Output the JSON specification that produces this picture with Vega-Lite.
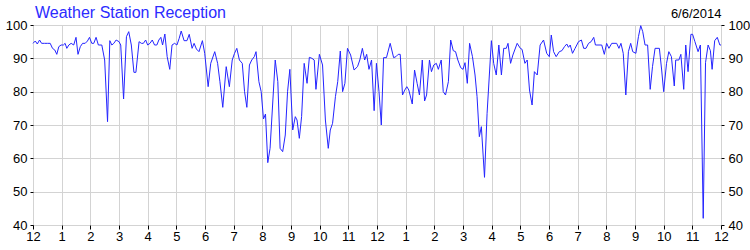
{
  "$schema": "https://vega.github.io/schema/vega-lite/v6.json",
  "width": 688,
  "height": 200,
  "autosize": {"type": "none"},
  "padding": {"left": 33, "top": 25, "right": 29, "bottom": 25},
  "title": {"text": "Weather Station Reception", "anchor": "start", "frame": "group", "color": "#2b2bff", "font": "Liberation Sans", "fontSize": 16, "fontWeight": "normal", "offset": 4, "dx": 2, "dy": 18},
  "config": {
    "view": {"stroke": "black", "strokeWidth": 1},
    "axis": {"labelFont": "Liberation Sans", "labelFontSize": 13, "labelColor": "black", "gridColor": "#d3d3d3", "gridWidth": 1, "tickColor": "black", "domain": false, "titleFont": "Liberation Sans"}
  },
  "data": {"values": [
    {"h":0.00,"v":94.5},{"h":0.08,"v":95.2},{"h":0.15,"v":94.3},{"h":0.23,"v":95.5},{"h":0.30,"v":94.5},{"h":0.40,"v":94.5},{"h":0.50,"v":94.5},{"h":0.60,"v":94.5},{"h":0.68,"v":93},{"h":0.76,"v":92.5},{"h":0.83,"v":91.2},{"h":0.90,"v":93.5},{"h":0.98,"v":94},{"h":1.06,"v":94},{"h":1.12,"v":94.5},{"h":1.18,"v":93},{"h":1.25,"v":94},{"h":1.33,"v":94.5},{"h":1.42,"v":94},{"h":1.50,"v":96.3},{"h":1.57,"v":91.2},{"h":1.65,"v":93.5},{"h":1.73,"v":94.5},{"h":1.82,"v":94.5},{"h":1.90,"v":95.2},{"h":1.97,"v":96.3},{"h":2.05,"v":94.5},{"h":2.12,"v":94.5},{"h":2.20,"v":96.3},{"h":2.28,"v":94},{"h":2.40,"v":94},{"h":2.50,"v":89.5},{"h":2.60,"v":71},{"h":2.68,"v":95.3},{"h":2.75,"v":94},{"h":2.82,"v":94.5},{"h":2.90,"v":95.5},{"h":3.00,"v":95},{"h":3.06,"v":94},{"h":3.16,"v":77.8},{"h":3.26,"v":96.5},{"h":3.34,"v":98},{"h":3.43,"v":94},{"h":3.52,"v":85.8},{"h":3.59,"v":85.8},{"h":3.70,"v":95},{"h":3.78,"v":94.5},{"h":3.85,"v":94.5},{"h":3.93,"v":95.5},{"h":4.00,"v":94},{"h":4.08,"v":94.5},{"h":4.16,"v":95.5},{"h":4.24,"v":94},{"h":4.32,"v":94},{"h":4.39,"v":95.5},{"h":4.46,"v":96.3},{"h":4.52,"v":94},{"h":4.60,"v":97.3},{"h":4.68,"v":90.5},{"h":4.77,"v":86.7},{"h":4.85,"v":94},{"h":4.94,"v":94.5},{"h":5.02,"v":94},{"h":5.10,"v":96},{"h":5.17,"v":98.2},{"h":5.27,"v":95.3},{"h":5.37,"v":95.3},{"h":5.45,"v":97.2},{"h":5.55,"v":93},{"h":5.62,"v":94.5},{"h":5.70,"v":92.8},{"h":5.79,"v":92},{"h":5.91,"v":95.3},{"h":5.99,"v":91.5},{"h":6.11,"v":81.5},{"h":6.20,"v":88.5},{"h":6.34,"v":92},{"h":6.44,"v":88.5},{"h":6.52,"v":83},{"h":6.62,"v":75.3},{"h":6.74,"v":87.5},{"h":6.85,"v":81.5},{"h":6.95,"v":89.5},{"h":7.03,"v":91.5},{"h":7.11,"v":93},{"h":7.20,"v":89.5},{"h":7.30,"v":88.5},{"h":7.38,"v":80},{"h":7.46,"v":75.3},{"h":7.55,"v":88},{"h":7.63,"v":89.5},{"h":7.72,"v":90.5},{"h":7.78,"v":92},{"h":7.88,"v":83},{"h":7.96,"v":80},{"h":8.04,"v":71.8},{"h":8.11,"v":73.3},{"h":8.19,"v":58.7},{"h":8.27,"v":63},{"h":8.45,"v":89.5},{"h":8.54,"v":83},{"h":8.62,"v":63},{"h":8.71,"v":62},{"h":8.80,"v":67},{"h":8.88,"v":80},{"h":8.96,"v":86.7},{"h":9.06,"v":68.5},{"h":9.15,"v":72.5},{"h":9.21,"v":71.5},{"h":9.29,"v":66},{"h":9.37,"v":72.5},{"h":9.46,"v":88.5},{"h":9.56,"v":82.5},{"h":9.64,"v":90.3},{"h":9.73,"v":90},{"h":9.81,"v":89.5},{"h":9.87,"v":80.7},{"h":9.99,"v":91.2},{"h":10.10,"v":88},{"h":10.20,"v":71.5},{"h":10.30,"v":63},{"h":10.37,"v":68.5},{"h":10.45,"v":70.5},{"h":10.55,"v":78.5},{"h":10.63,"v":83},{"h":10.72,"v":92.2},{"h":10.80,"v":80},{"h":10.88,"v":82.5},{"h":10.97,"v":93},{"h":11.08,"v":91},{"h":11.20,"v":86.5},{"h":11.32,"v":87.5},{"h":11.40,"v":89.5},{"h":11.49,"v":93},{"h":11.57,"v":89.5},{"h":11.64,"v":91.2},{"h":11.72,"v":86.7},{"h":11.81,"v":89.5},{"h":11.90,"v":74.3},{"h":11.98,"v":88.5},{"h":12.07,"v":80},{"h":12.15,"v":70},{"h":12.23,"v":90.2},{"h":12.33,"v":90.2},{"h":12.46,"v":94.5},{"h":12.58,"v":90.2},{"h":12.66,"v":90.5},{"h":12.74,"v":91.2},{"h":12.81,"v":91.2},{"h":12.89,"v":79},{"h":12.97,"v":80.5},{"h":13.04,"v":81.5},{"h":13.11,"v":80.5},{"h":13.23,"v":76.3},{"h":13.31,"v":86.5},{"h":13.40,"v":82.5},{"h":13.48,"v":79},{"h":13.58,"v":89.5},{"h":13.66,"v":77.2},{"h":13.73,"v":79},{"h":13.83,"v":89.5},{"h":13.90,"v":86},{"h":13.98,"v":88},{"h":14.07,"v":88.5},{"h":14.14,"v":86.7},{"h":14.24,"v":89.5},{"h":14.31,"v":80},{"h":14.39,"v":79},{"h":14.49,"v":83},{"h":14.57,"v":95.5},{"h":14.66,"v":92.3},{"h":14.74,"v":92},{"h":14.82,"v":89.5},{"h":14.92,"v":87.2},{"h":15.00,"v":86.7},{"h":15.07,"v":88.7},{"h":15.15,"v":82.5},{"h":15.23,"v":94.5},{"h":15.33,"v":90.5},{"h":15.42,"v":85},{"h":15.49,"v":78.5},{"h":15.57,"v":66.5},{"h":15.64,"v":69.5},{"h":15.75,"v":54.3},{"h":15.84,"v":73.5},{"h":15.99,"v":95.3},{"h":16.07,"v":88.5},{"h":16.16,"v":85},{"h":16.25,"v":94},{"h":16.34,"v":85},{"h":16.42,"v":93},{"h":16.51,"v":93},{"h":16.57,"v":94.5},{"h":16.66,"v":88.5},{"h":16.74,"v":91},{"h":16.89,"v":94.5},{"h":17.00,"v":93},{"h":17.06,"v":92.7},{"h":17.16,"v":88.5},{"h":17.24,"v":89.5},{"h":17.32,"v":80.5},{"h":17.41,"v":76},{"h":17.49,"v":86},{"h":17.59,"v":85},{"h":17.69,"v":94},{"h":17.81,"v":95.5},{"h":17.92,"v":91.5},{"h":18.01,"v":90.5},{"h":18.08,"v":97},{"h":18.16,"v":92},{"h":18.25,"v":90.5},{"h":18.36,"v":92},{"h":18.45,"v":92.3},{"h":18.54,"v":93.5},{"h":18.62,"v":94.3},{"h":18.68,"v":93.3},{"h":18.74,"v":94},{"h":18.82,"v":91.5},{"h":18.91,"v":93},{"h":19.03,"v":95},{"h":19.13,"v":95.5},{"h":19.21,"v":93},{"h":19.29,"v":93},{"h":19.38,"v":94.5},{"h":19.47,"v":95},{"h":19.56,"v":96.3},{"h":19.62,"v":94},{"h":19.84,"v":94},{"h":19.93,"v":91.2},{"h":20.01,"v":94.5},{"h":20.09,"v":93},{"h":20.19,"v":94.5},{"h":20.36,"v":94.5},{"h":20.44,"v":93},{"h":20.51,"v":94.5},{"h":20.59,"v":91.5},{"h":20.68,"v":79},{"h":20.77,"v":92},{"h":20.85,"v":94.5},{"h":20.92,"v":92},{"h":21.03,"v":91.5},{"h":21.12,"v":96.5},{"h":21.20,"v":99.8},{"h":21.27,"v":98},{"h":21.35,"v":94},{"h":21.44,"v":94},{"h":21.53,"v":80.7},{"h":21.61,"v":87.5},{"h":21.70,"v":93},{"h":21.85,"v":93},{"h":21.93,"v":86.5},{"h":22.00,"v":80},{"h":22.10,"v":88.5},{"h":22.18,"v":92},{"h":22.27,"v":90.5},{"h":22.37,"v":81.7},{"h":22.42,"v":89.5},{"h":22.53,"v":89.5},{"h":22.60,"v":91.2},{"h":22.70,"v":80.7},{"h":22.77,"v":94},{"h":22.85,"v":86},{"h":22.95,"v":97.2},{"h":23.01,"v":97.2},{"h":23.09,"v":95},{"h":23.20,"v":92},{"h":23.28,"v":94},{"h":23.38,"v":42},{"h":23.46,"v":88.7},{"h":23.55,"v":94},{"h":23.63,"v":92.3},{"h":23.69,"v":86.7},{"h":23.78,"v":95.3},{"h":23.87,"v":96.3},{"h":23.96,"v":94},{"h":24.00,"v":94}
  ]},
  "layer": [
    {
      "mark": {"type": "line", "color": "#2424ff", "strokeWidth": 1},
      "encoding": {
        "x": {"field": "h", "type": "quantitative", "scale": {"domain": [0, 24], "nice": false, "zero": false},
              "axis": {"orient": "bottom", "values": [0,1,2,3,4,5,6,7,8,9,10,11,12,13,14,15,16,17,18,19,20,21,22,23,24], "labelExpr": "datum.value % 12 == 0 ? '12' : '' + (datum.value % 12)", "grid": true, "ticks": true, "tickSize": 4, "labelPadding": 1, "labelFlush": false, "labelOverlap": false, "title": null}},
        "y": {"field": "v", "type": "quantitative", "scale": {"domain": [40, 100], "nice": false, "zero": false},
              "axis": {"orient": "left", "values": [40,50,60,70,80,90,100], "grid": true, "tickSize": 3, "labelPadding": 3, "title": null}}
      }
    },
    {
      "mark": {"type": "line", "strokeOpacity": 0},
      "encoding": {
        "x": {"field": "h", "type": "quantitative",
              "axis": {"orient": "top", "labels": false, "ticks": false, "grid": false, "title": "6/6/2014", "titleAnchor": "end", "titleAlign": "right", "titleFontSize": 13, "titleFontWeight": "normal", "titleColor": "black", "titlePadding": 5}},
        "y": {"field": "v", "type": "quantitative",
              "axis": {"orient": "right", "values": [40,50,60,70,80,90,100], "grid": false, "tickSize": 3, "labelPadding": 4, "title": null}}
      }
    }
  ],
  "resolve": {"axis": {"x": "independent", "y": "independent"}}
}
